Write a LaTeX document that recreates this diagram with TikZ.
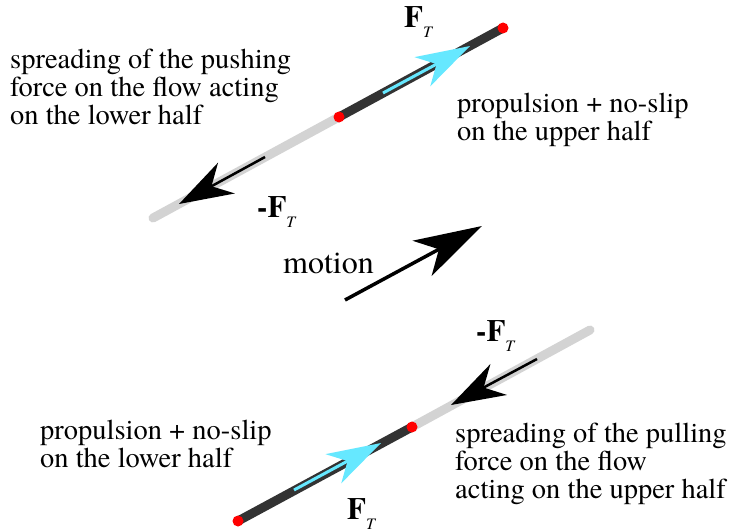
\documentclass[tikz,border=0pt]{standalone}
\usepackage{fontspec}
\setmainfont{TeX Gyre Termes}
\usetikzlibrary{arrows.meta}
\definecolor{rodlight}{RGB}{211,211,211}
\definecolor{roddark}{RGB}{51,51,51}
\definecolor{cyanF}{RGB}{102,232,255}
\definecolor{dotred}{RGB}{255,0,0}
\newcommand\myFT{{\fontsize{31}{31}\selectfont\bfseries F}\raisebox{-10pt}{\fontsize{16}{16}\selectfont\itshape T}}
\newcommand\myMFT{{\fontsize{31}{31}\selectfont\bfseries -F}\raisebox{-10pt}{\fontsize{16}{16}\selectfont\itshape T}}
\begin{document}
\begin{tikzpicture}[x=1pt,y=-1pt,
  rodL/.style={line width=9pt,line cap=round,rodlight},
  rodD/.style={line width=9pt,line cap=round,roddark},
  reddot/.style={fill=dotred},
  cyanarrow/.style={line width=3pt,cyanF,-{Stealth[length=54pt,width=33pt,inset=16pt]}},
  blackarrow/.style={line width=2.5pt,black,-{Stealth[length=54pt,width=35pt,inset=17pt]}},
  motionarrow/.style={line width=3.5pt,black,-{Stealth[length=68pt,width=40pt,inset=19pt]}},
  txt/.style={inner sep=0pt,align=left,anchor=north west,font=\fontsize{28.5}{28}\selectfont},
  lab/.style={inner sep=0pt,anchor=base west}]
\useasboundingbox (0,0) rectangle (730,532);
% top rod
\coordinate (A1) at (153,218);
\coordinate (M1) at (339,117);
\coordinate (B1) at (503,28);
\draw[rodL] (A1) -- (M1);
\draw[rodD] (M1) -- (B1);
\fill[reddot] (M1) circle (5.5);
\fill[reddot] (B1) circle (5.5);
% bottom rod
\coordinate (A2) at (238,521);
\coordinate (M2) at (412,427);
\coordinate (B2) at (590,330);
\draw[rodD] (A2) -- (M2);
\draw[rodL] (M2) -- (B2);
\fill[reddot] (M2) circle (5.5);
\fill[reddot] (A2) circle (5.5);
% force arrows
\coordinate (c1s) at (383,93);
\coordinate (c1e) at (470,46);
\draw[cyanarrow] (c1s) -- (c1e);
\coordinate (k1s) at (265,157);
\coordinate (k1e) at (179,204);
\draw[blackarrow] (k1s) -- (k1e);
\coordinate (c2s) at (294,490);
\coordinate (c2e) at (381,443);
\draw[cyanarrow] (c2s) -- (c2e);
\coordinate (k2s) at (537,359);
\coordinate (k2e) at (451,405);
\draw[blackarrow] (k2s) -- (k2e);
% motion
\coordinate (ms) at (345,300);
\coordinate (me) at (482,226);
\draw[motionarrow] (ms) -- (me);
\node[lab,font=\fontsize{32}{32}\selectfont] (mot) at (283,273) {motion};
% labels
\node[lab] (f1) at (404,28) {\myFT};
\node[lab] (mf1) at (257,217) {\myMFT};
\node[lab] (mf2) at (476,341) {\myMFT};
\node[lab] (f2) at (347,519) {\myFT};
% texts
\node[txt] (t1) at (10,49) {spreading of the pushing\\force on the flow acting\\on the lower half};
\node[txt] (t2) at (457,93) {propulsion + no-slip\\on the upper half};
\node[txt] (t3) at (40,420) {propulsion + no-slip\\on the lower half};
\node[txt] (t4) at (455,423) {spreading of the pulling\\force on the flow\\acting on the upper half};
\end{tikzpicture}
\end{document}
